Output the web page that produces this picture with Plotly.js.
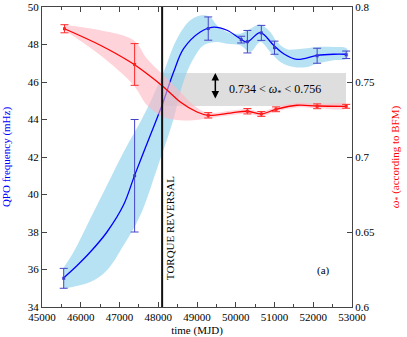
<!DOCTYPE html>
<html>
<head>
<meta charset="utf-8">
<script src="https://cdn.plot.ly/plotly-3.0.1.min.js"></script>
<style>html,body{margin:0;padding:0;background:#fff;}#chart{width:407px;height:337px;}</style>
</head>
<body>
<div id="chart"></div>
<script>
// ---- QPO frequency measurements (left axis, mHz) ----
const qpoTime = [45560, 47390, 49290, 50140, 50300, 50660, 51000, 52100, 52850];
const qpoFreq = [35.53, 41.0, 48.85, 48.26, 48.15, 48.62, 47.83, 47.40, 47.45];
const qpoErr  = [0.53, 3.0, 0.62, 0.18, 0.6, 0.4, 0.35, 0.4, 0.2];

// fitted QPO curve
const qpoCurveTime = [45557, 45900, 46246, 46677, 47106, 47390, 47795, 48097, 48396, 48654, 49085, 49428, 49774, 50117, 50290, 50633, 50977, 51235, 51581, 52097, 52525, 52845];
const qpoCurveFreq = [35.55, 36.2, 36.93, 38.0, 39.45, 41.02, 43.16, 44.76, 46.53, 47.78, 48.67, 48.93, 48.76, 48.31, 48.13, 48.63, 47.96, 47.51, 47.21, 47.42, 47.48, 47.48];

// QPO confidence band
const qpoBandUpTime = [45557, 45815, 46246, 46677, 47106, 47537, 47795, 48138, 48484, 48827, 49129, 49343, 49516, 49774, 50117, 50375, 50633, 50891, 51065, 51323, 51581, 51839, 52097, 52525, 52871];
const qpoBandUp     = [36.1, 36.93, 38.71, 40.49, 42.27, 43.87, 44.93, 46.53, 48.31, 49.29, 49.56, 49.47, 49.02, 48.67, 48.58, 48.84, 49.06, 48.67, 48.13, 47.75, 47.75, 47.8, 47.87, 47.87, 47.78];
const qpoBandLoTime = [45557, 46246, 46677, 47106, 47537, 47968, 48396, 48569, 48742, 48912, 49170, 49516, 49774, 50117, 50375, 50633, 50891, 51150, 51493, 51839, 52097, 52525, 52871];
const qpoBandLo     = [34.98, 35.33, 35.96, 37.29, 38.89, 41.38, 44.04, 45.47, 46.53, 47.25, 47.96, 48.13, 48.04, 47.96, 47.6, 48.13, 47.6, 47.07, 46.8, 46.8, 46.98, 47.16, 47.25];

// ---- omega_* (right axis) ----
const omTime = [45580, 47390, 49290, 50300, 50660, 51040, 52100, 52850];
const omVal  = [0.7855, 0.7617, 0.7278, 0.7305, 0.7287, 0.7318, 0.7338, 0.7338];
const omErr  = [0.0027, 0.0139, 0.0018, 0.0018, 0.0016, 0.0016, 0.0016, 0.0013];

const omCurveTime = [45580, 46505, 47279, 47710, 48138, 48569, 49000, 49284, 49859, 50306, 50659, 51039, 51581, 52097, 52845];
const omCurveVal  = [0.7855, 0.7745, 0.7633, 0.7555, 0.7467, 0.7367, 0.7300, 0.7278, 0.7293, 0.7305, 0.7287, 0.7318, 0.7345, 0.7340, 0.7338];

const omBandTime = [45580, 46505, 47364, 47710, 48138, 48569, 48912, 49258, 49859, 50306, 50659, 51039, 51581, 52097, 52845];
const omBandUp   = [0.7880, 0.7845, 0.7778, 0.7655, 0.7545, 0.7433, 0.7345, 0.7295, 0.7308, 0.7320, 0.7302, 0.7333, 0.7360, 0.7355, 0.7352];
const omBandLo   = [0.7845, 0.7678, 0.7478, 0.7345, 0.7267, 0.7245, 0.7245, 0.7257, 0.7278, 0.7290, 0.7272, 0.7303, 0.7330, 0.7325, 0.7324];

// ---- tick values ----
const xTicks = [45000, 46000, 47000, 48000, 49000, 50000, 51000, 52000, 53000];
const yTicks = [34, 36, 38, 40, 42, 44, 46, 48, 50];
const y2Ticks = [0.6, 0.65, 0.7, 0.75, 0.8];
const y2TickText = ['0.6', '0.65', '0.7', '0.75', '0.8'];

// ---- annotations ----
const torqueReversal = 48100;
const omLow = 0.734, omHigh = 0.756;
const boxEnd = 52845;
const arrowTime = 49473;
const labelTime = 49774;
const panelLabelPos = [52270, 35.96];
const torqueLabelPos = [48300, 38.2];

const serif = "Liberation Serif, Times New Roman, serif";

function band(xu, yu, xl, yl) {
  return { x: xu.concat(xl.slice().reverse()), y: yu.concat(yl.slice().reverse()) };
}
const qb = band(qpoBandUpTime, qpoBandUp, qpoBandLoTime, qpoBandLo);
const ob = band(omBandTime, omBandUp, omBandTime, omBandLo);

const traces = [
  { x: qb.x, y: qb.y, type: 'scatter', mode: 'lines', fill: 'toself',
    fillcolor: 'rgba(135,206,235,0.6)', line: { width: 0, shape: 'spline' }, hoverinfo: 'skip', showlegend: false },
  { x: ob.x, y: ob.y, yaxis: 'y2', type: 'scatter', mode: 'lines', fill: 'toself',
    fillcolor: 'rgba(255,182,193,0.6)', line: { width: 0, shape: 'spline' }, hoverinfo: 'skip', showlegend: false },
  { x: qpoCurveTime, y: qpoCurveFreq, type: 'scatter', mode: 'lines',
    line: { color: '#0000ff', width: 1.3, shape: 'spline' }, showlegend: false },
  { x: omCurveTime, y: omCurveVal, yaxis: 'y2', type: 'scatter', mode: 'lines',
    line: { color: '#ff0000', width: 1.3, shape: 'spline' }, showlegend: false },
  { x: qpoTime, y: qpoFreq, type: 'scatter', mode: 'markers',
    marker: { color: '#3a3ad0', size: 3, symbol: 'square' },
    error_y: { type: 'data', array: qpoErr, visible: true, color: '#4444c8', thickness: 1, width: 4 }, showlegend: false },
  { x: omTime, y: omVal, yaxis: 'y2', type: 'scatter', mode: 'markers',
    marker: { color: '#ff2020', size: 3, symbol: 'square' },
    error_y: { type: 'data', array: omErr, visible: true, color: '#ff2a2a', thickness: 1, width: 4 }, showlegend: false }
];

const tf = { family: serif, size: 11, color: '#000' };

const layout = {
  width: 407, height: 337,
  margin: { l: 42, r: 55, t: 7, b: 30 },
  paper_bgcolor: '#fff', plot_bgcolor: '#fff',
  font: { family: serif, size: 11, color: '#000' },
  showlegend: false,
  xaxis: {
    range: [45000, 53000], tickmode: 'array', tickvals: xTicks, ticktext: xTicks.map(String),
    ticks: 'inside', ticklen: 5, tickcolor: '#444', tickwidth: 1,
    minor: { dtick: 500, tick0: 45000, ticks: 'inside', ticklen: 3, tickcolor: '#444' },
    showline: true, linecolor: '#444', linewidth: 1, mirror: 'ticks',
    showgrid: false, zeroline: false,
    tickfont: tf,
    title: { text: 'time (MJD)', font: { family: serif, size: 11, color: '#000' }, standoff: 6 }
  },
  yaxis: {
    range: [34, 50], tickmode: 'array', tickvals: yTicks, ticktext: yTicks.map(String),
    ticks: 'inside', ticklen: 5, tickcolor: '#444',
    showline: true, linecolor: '#444', linewidth: 1,
    showgrid: false, zeroline: false,
    tickfont: tf,
    title: { text: 'QPO frequency (mHz)', font: { family: serif, size: 11, color: '#0000ff' }, standoff: 14 }
  },
  yaxis2: {
    overlaying: 'y', side: 'right',
    range: [0.6, 0.8], tickmode: 'array', tickvals: y2Ticks, ticktext: y2TickText,
    ticks: 'inside', ticklen: 5, tickcolor: '#444',
    showline: true, linecolor: '#444', linewidth: 1,
    showgrid: false, zeroline: false,
    tickfont: tf,
    title: { text: '<i>ω</i><sub>*</sub> (according to BFM)', font: { family: serif, size: 11, color: '#ff0000' }, standoff: 17 }
  },
  shapes: [
    { type: 'rect', xref: 'x', yref: 'y2', x0: torqueReversal, x1: boxEnd, y0: omLow, y1: omHigh,
      fillcolor: 'rgba(200,200,200,0.6)', line: { width: 0 }, layer: 'below' },
    { type: 'line', xref: 'x', yref: 'paper', x0: torqueReversal, x1: torqueReversal, y0: 0, y1: 1,
      line: { color: '#111', width: 2 } }
  ],
  annotations: [
    { x: arrowTime, y: omHigh, xref: 'x', yref: 'y2', ax: arrowTime, ay: omLow, axref: 'x', ayref: 'y2',
      showarrow: true, arrowside: 'end+start', arrowhead: 2, arrowsize: 1, arrowwidth: 1.5, arrowcolor: '#000', text: ' ' },
    { x: labelTime, y: (omLow + omHigh) / 2, xref: 'x', yref: 'y2', xanchor: 'left', yanchor: 'middle',
      showarrow: false, text: omLow + ' &lt; <i>ω</i><sub>*</sub> &lt; ' + omHigh,
      font: { family: serif, size: 12, color: '#000' } },
    { x: torqueLabelPos[0], y: torqueLabelPos[1], xref: 'x', yref: 'y', textangle: -90,
      showarrow: false, text: 'TORQUE REVERSAL', font: { family: serif, size: 11, color: '#000' } },
    { x: panelLabelPos[0], y: panelLabelPos[1], xref: 'x', yref: 'y', showarrow: false,
      text: '(a)', font: { family: serif, size: 11, color: '#000' } }
  ]
};

Plotly.newPlot('chart', traces, layout, { staticPlot: true, displayModeBar: false });
</script>
</body>
</html>
